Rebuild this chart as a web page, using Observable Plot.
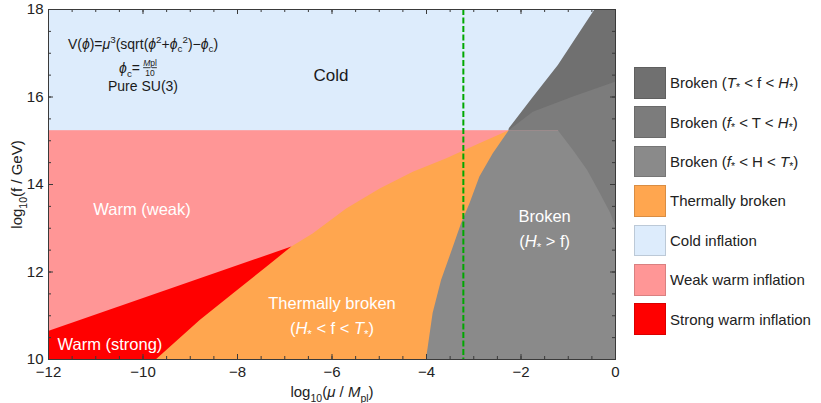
<!DOCTYPE html>
<html><head><meta charset="utf-8">
<script src="https://cdn.jsdelivr.net/npm/d3@7"></script>
<script src="https://cdn.jsdelivr.net/npm/@observablehq/plot@0.6"></script>
<style>
body{margin:0;background:#fff;font-family:"Liberation Sans",Arial,sans-serif;}
#wrap{position:relative;width:821px;height:403px;}
#legend{position:absolute;left:634px;top:67px;font-size:15px;color:#222;}
.row{display:flex;align-items:center;height:31.7px;margin-bottom:7.7px;}
.sw{width:32px;height:31.7px;box-sizing:border-box;border:1px solid #999;}
.lt{margin-left:4px;white-space:nowrap;}
.lt sub{font-size:70%;vertical-align:-0.25em;line-height:0;}
</style>
</head><body>
<div id="wrap"></div>
<script>
// ---- axes / ticks ----
const xDomain = [-12, 0];
const yDomain = [10, 18];
const xMajor = [-12, -10, -8, -6, -4, -2, 0];
const yMajor = [10, 12, 14, 16, 18];
const xMinor = d3.range(-12, 0.001, 0.5);
const yMinor = d3.range(10, 18.001, 0.5);

// ---- region boundaries ----
const coldWarmF = 15.23;                       // cold / warm boundary, log10 f
const redTopX = [-12, -6.85];                  // weak / strong warm boundary
const redTopF = [10.64, 12.57];
const orangeTopX = [-9.71, -8.79, -8.09, -7.38, -6.85, -6.40, -5.69, -4.98, -4.28, -3.57, -2.87, -2.25];
const orangeTopF = [10.00, 10.89, 11.50, 12.11, 12.57, 12.87, 13.44, 13.90, 14.28, 14.59, 14.93, 15.23];
const brokenEdgeF = [10.00, 11.05, 11.81, 12.57, 13.10, 13.56, 14.17, 14.70, 15.23];
const brokenEdgeX = [-4.00, -3.86, -3.68, -3.43, -3.26, -3.08, -2.87, -2.59, -2.25];
const midLowX = [-2.25, -1.21, -0.89, -0.59, -0.32, -0.10, 0];
const midLowF = [15.23, 15.23, 14.78, 14.32, 13.79, 13.34, 13.05];
const darkLowX = [-2.25, -1.74, -0.89, 0];
const darkLowF = [15.23, 15.65, 16.00, 16.34];
const darkTopX = [-2.28, -1.77, -1.21, -0.43];
const darkTopF = [15.23, 15.95, 16.72, 18.00];
const muCrit = -3.22;                          // green dashed line

// ---- legend ----
const legendLabels = [
  "Broken (<i>T</i><sub>*</sub> < f < <i>H</i><sub>*</sub>)",
  "Broken (<i>f</i><sub>*</sub> < T < <i>H</i><sub>*</sub>)",
  "Broken (<i>f</i><sub>*</sub> < H < <i>T</i><sub>*</sub>)",
  "Thermally broken",
  "Cold inflation",
  "Weak warm inflation",
  "Strong warm inflation"
];
const legendColors = ["#707070", "#7c7c7c", "#8a8a8a", "#ffa64f", "#ddecfc", "#ff9696", "#ff0000"];
const C = {dark: legendColors[0], mid: legendColors[1], light: legendColors[2], orange: legendColors[3], cold: legendColors[4], weak: legendColors[5], strong: legendColors[6]};

// ---- annotations ----
const whiteLabels = [
  {x: -10.02, y: 13.43, t: "Warm (weak)"},
  {x: -10.70, y: 10.34, t: "Warm (strong)"},
  {x: -6.00, y: 11.28, t: "Thermally broken"},
  {x: -6.00, y: 10.71, t: "(<i>H</i><sub>*</sub> < f < <i>T</i><sub>*</sub>)"},
  {x: -1.50, y: 13.27, t: "Broken"},
  {x: -1.50, y: 12.70, t: "(<i>H</i><sub>*</sub> > f)"}
];
const darkLabels = [{x: -6.02, y: 16.49, t: "Cold"}];
const formulaX = -10.0;
const formula1 = "V(<i>ϕ</i>)=<i>μ</i><sup>3</sup>(sqrt(<i>ϕ</i><sup>2</sup>+<i>ϕ</i><sub>c</sub><sup>2</sup>)−<i>ϕ</i><sub>c</sub>)";
const formula2 = "<i>ϕ</i><sub>c</sub>=";
const fracNum = "<u><i>M</i>pl</u>";
const fracDen = "10";
const formula3 = "Pure SU(3)";
const formulaY = [17.21, 16.65, 16.24];
const xLabel = "log<sub>10</sub>(<i>μ</i> / <i>M</i><sub>pl</sub>)";
const yLabel = "log<sub>10</sub>(f / GeV)";

const rows = (xs, fs) => xs.map((x, i) => ({x, f: fs[i]}));

const W = 821, H = 403, mL = 48, mT = 9, mR = 206, mB = 44;
const innerH = H - mT - mB, innerW = W - mL - mR;
const frameCol = "#3a3a3a";

const chart = Plot.plot({
  width: W, height: H, marginLeft: mL, marginTop: mT, marginRight: mR, marginBottom: mB,
  x: {domain: xDomain, axis: null},
  y: {domain: yDomain, axis: null},
  style: {fontFamily: "Liberation Sans, Arial, sans-serif", fontSize: "15px", background: "white", color: "#222", overflow: "visible"},
  marks: [
    Plot.rect([0], {x1: () => xDomain[0], x2: () => xDomain[1], y1: () => yDomain[0], y2: () => yDomain[1], fill: C.cold}),
    Plot.rect([0], {x1: () => xDomain[0], x2: () => xDomain[1], y1: () => yDomain[0], y2: () => coldWarmF, fill: C.weak}),
    Plot.areaY(rows(redTopX, redTopF), {x: "x", y1: () => yDomain[0], y2: "f", fill: C.strong}),
    Plot.areaY(rows(orangeTopX, orangeTopF), {x: "x", y1: () => yDomain[0], y2: "f", fill: C.orange}),
    Plot.areaX(rows(brokenEdgeX, brokenEdgeF), {y: "f", x1: "x", x2: () => xDomain[1], fill: C.light}),
    Plot.areaY(rows(midLowX, midLowF), {x: "x", y1: "f", y2: () => yDomain[1], fill: C.mid}),
    Plot.areaY(rows(darkLowX, darkLowF), {x: "x", y1: "f", y2: () => yDomain[1], fill: C.dark}),
    Plot.areaY(rows(darkTopX, darkTopF), {x: "x", y1: "f", y2: () => yDomain[1], fill: C.cold}),
    Plot.ruleX([muCrit], {stroke: "#00a800", strokeWidth: 2, strokeDasharray: "6,2.5"}),
    Plot.text(whiteLabels, {x: "x", y: "y", text: "t", fill: "white", fontSize: 16.5}),
    Plot.text(darkLabels, {x: "x", y: "y", text: "t", fill: "#1a1a1a", fontSize: 17}),
    Plot.text([formula1], {x: () => formulaX, y: () => formulaY[0], text: d => d, fontSize: 14, fill: "#1a1a1a"}),
    Plot.text([formula2], {x: () => formulaX, y: () => formulaY[1], text: d => d, fontSize: 14, fill: "#1a1a1a", textAnchor: "end", dx: -3}),
    Plot.text([fracNum], {x: () => formulaX, y: () => formulaY[1], text: d => d, fontSize: 8.5, fill: "#1a1a1a", dx: 7, dy: -5}),
    Plot.text([fracDen], {x: () => formulaX, y: () => formulaY[1], text: d => d, fontSize: 8.5, fill: "#1a1a1a", dx: 7, dy: 4.5}),
    Plot.text([formula3], {x: () => formulaX, y: () => formulaY[2], text: d => d, fontSize: 14, fill: "#1a1a1a"}),
    Plot.frame({stroke: frameCol}),
    Plot.tickX(xMinor, {x: d => d, stroke: frameCol, strokeWidth: 1, insetTop: innerH - 3}),
    Plot.tickX(xMajor, {x: d => d, stroke: frameCol, strokeWidth: 1, insetTop: innerH - 5}),
    Plot.tickX(xMinor, {x: d => d, stroke: frameCol, strokeWidth: 1, insetBottom: innerH - 3}),
    Plot.tickX(xMajor, {x: d => d, stroke: frameCol, strokeWidth: 1, insetBottom: innerH - 5}),
    Plot.tickY(yMinor, {y: d => d, stroke: frameCol, strokeWidth: 1, insetRight: innerW - 3}),
    Plot.tickY(yMajor, {y: d => d, stroke: frameCol, strokeWidth: 1, insetRight: innerW - 5}),
    Plot.tickY(yMinor, {y: d => d, stroke: frameCol, strokeWidth: 1, insetLeft: innerW - 3}),
    Plot.tickY(yMajor, {y: d => d, stroke: frameCol, strokeWidth: 1, insetLeft: innerW - 5}),
    Plot.axisX(xMajor, {tickSize: 0, tickPadding: 7, fontSize: 15, fill: "#222", label: null}),
    Plot.axisY(yMajor, {tickSize: 0, tickPadding: 5, fontSize: 15, fill: "#222", label: null}),
    Plot.text([xLabel], {frameAnchor: "bottom", lineAnchor: "middle", textAnchor: "middle", dy: 33, text: d => d, fontSize: 15, fill: "#222"}),
    Plot.text([yLabel], {frameAnchor: "left", lineAnchor: "middle", textAnchor: "middle", dx: -31, rotate: -90, text: d => d, fontSize: 15, fill: "#222"})
  ]
});
document.getElementById("wrap").appendChild(chart);

// ---- rich text (italic / sub / sup / underline) ----
function parseMarkup(s) {
  const re = /<(\/?)(i|sub|sup|u|o)>/g;
  const segs = [], st = {i: 0, sub: 0, sup: 0, u: 0, o: 0};
  let last = 0, m;
  while ((m = re.exec(s))) {
    if (m.index > last) segs.push({text: s.slice(last, m.index), ...st});
    st[m[2]] += m[1] ? -1 : 1;
    last = re.lastIndex;
  }
  if (last < s.length) segs.push({text: s.slice(last), ...st});
  return segs;
}
const esc = s => s.replace(/&/g, "&amp;").replace(/</g, "&lt;").replace(/>/g, "&gt;");
chart.querySelectorAll("text").forEach(t => {
  const s = t.textContent;
  if (!/<\/?(i|sub|sup|u|o)>/.test(s)) return;
  const fs = parseFloat(getComputedStyle(t).fontSize) || 15;
  let cur = 0, out = "";
  for (const g of parseMarkup(s)) {
    const shift = g.sub ? 0.28 * fs : g.sup ? -0.38 * fs : 0;
    const size = (g.sub || g.sup) ? 0.7 * fs : fs;
    const deco = g.u ? "underline" : g.o ? "overline" : "none";
    out += `<tspan dy="${(shift - cur).toFixed(2)}" font-size="${size.toFixed(2)}" font-style="${g.i ? "italic" : "normal"}" text-decoration="${deco}">${esc(g.text)}</tspan>`;
    cur = shift;
  }
  t.innerHTML = out;
});

// ---- legend ----
const leg = document.createElement("div");
leg.id = "legend";
legendLabels.forEach((lab, i) => {
  const row = document.createElement("div");
  row.className = "row";
  const sw = document.createElement("div");
  sw.className = "sw";
  sw.style.background = legendColors[i];
  sw.style.borderColor = d3.color(legendColors[i]).darker(0.45).formatHex();
  const tx = document.createElement("div");
  tx.className = "lt";
  tx.innerHTML = parseMarkup(lab).map(g => {
    let h = esc(g.text);
    if (g.i) h = `<i>${h}</i>`;
    if (g.sub) h = `<sub>${h}</sub>`;
    if (g.sup) h = `<sup>${h}</sup>`;
    return h;
  }).join("");
  row.appendChild(sw); row.appendChild(tx);
  leg.appendChild(row);
});
document.getElementById("wrap").appendChild(leg);
</script>
</body></html>
